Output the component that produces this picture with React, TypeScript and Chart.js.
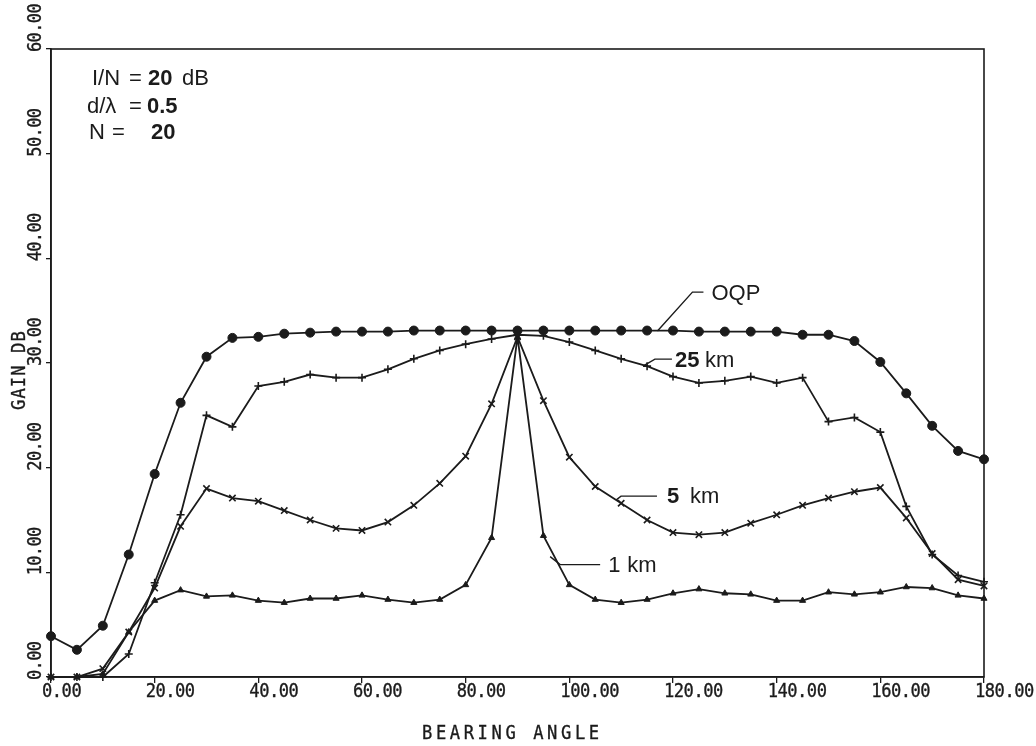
import React, { useEffect, useRef } from "react";
import { Chart, registerables } from "chart.js";

Chart.register(...registerables);

// Bearing angle samples (degrees)
const angles = [
  0, 5, 10, 15, 20, 25, 30, 35, 40, 45, 50, 55, 60, 65, 70, 75, 80, 85, 90,
  95, 100, 105, 110, 115, 120, 125, 130, 135, 140, 145, 150, 155, 160, 165,
  170, 175, 180,
];

// Gain (dB) per curve
const gainOQP = [
  3.9, 2.6, 4.9, 11.7, 19.4, 26.2, 30.6, 32.4, 32.5, 32.8, 32.9, 33.0, 33.0,
  33.0, 33.1, 33.1, 33.1, 33.1, 33.1, 33.1, 33.1, 33.1, 33.1, 33.1, 33.1,
  33.0, 33.0, 33.0, 33.0, 32.7, 32.7, 32.1, 30.1, 27.1, 24.0, 21.6, 20.8,
];
const gain25km = [
  0, 0, 0, 2.2, 9.0, 15.5, 25.0, 23.9, 27.8, 28.2, 28.9, 28.6, 28.6, 29.4,
  30.4, 31.2, 31.8, 32.3, 32.7, 32.6, 32.0, 31.2, 30.4, 29.7, 28.7, 28.1,
  28.3, 28.7, 28.1, 28.6, 24.4, 24.8, 23.4, 16.3, 11.7, 9.7, 9.1,
];
const gain5km = [
  0, 0, 0.8, 4.3, 8.5, 14.4, 18.0, 17.1, 16.8, 15.9, 15.0, 14.2, 14.0, 14.8,
  16.4, 18.5, 21.1, 26.1, 32.5, 26.4, 21.0, 18.2, 16.6, 15.0, 13.8, 13.6,
  13.8, 14.7, 15.5, 16.4, 17.1, 17.7, 18.1, 15.2, 11.8, 9.3, 8.7,
];
const gain1km = [
  0, 0, 0.3, 4.3, 7.3, 8.3, 7.7, 7.8, 7.3, 7.1, 7.5, 7.5, 7.8, 7.4, 7.1, 7.4,
  8.8, 13.3, 32.5, 13.5, 8.8, 7.4, 7.1, 7.4, 8.0, 8.4, 8.0, 7.9, 7.3, 7.3,
  8.1, 7.9, 8.1, 8.6, 8.5, 7.8, 7.5,
];

// Axis ticks and labels
const xTickValues = [0, 20, 40, 60, 80, 100, 120, 140, 160, 180];
const xTickLabels = [
  "0.00", "20.00", "40.00", "60.00", "80.00", "100.00", "120.00", "140.00",
  "160.00", "180.00",
];
const yTickValues = [0, 10, 20, 30, 40, 50, 60];
const yTickLabels = ["0.00", "10.00", "20.00", "30.00", "40.00", "50.00", "60.00"];

const xTitle = "BEARING ANGLE";
const yTitle = "GAIN DB";

const INK = "#1b1b1b";
const MONO = "'DejaVu Sans Mono', 'Liberation Mono', monospace";
const SANS = "'Liberation Sans', Arial, sans-serif";

// Plotter-style lettering: fixed advance per character, optionally rotated.
function plotterText(
  ctx: CanvasRenderingContext2D,
  text: string,
  x: number,
  y: number,
  advance: number,
  size: number,
  vertical = false
) {
  ctx.save();
  ctx.translate(x, y);
  if (vertical) ctx.rotate(-Math.PI / 2);
  ctx.font = `${size}px ${MONO}`;
  ctx.textAlign = "left";
  ctx.textBaseline = "alphabetic";
  ctx.fillStyle = INK;
  ctx.strokeStyle = INK;
  ctx.lineWidth = 0.35;
  for (let i = 0; i < text.length; i++) {
    ctx.save();
    ctx.translate(i * advance, 0);
    ctx.scale(0.9, 1);
    ctx.fillText(text[i], 0, 0);
    ctx.strokeText(text[i], 0, 0);
    ctx.restore();
  }
  ctx.restore();
}

function sansText(
  ctx: CanvasRenderingContext2D,
  text: string,
  x: number,
  y: number,
  bold = false,
  size = 21
) {
  ctx.font = `${bold ? "bold " : ""}${size}px ${SANS}`;
  ctx.textAlign = "left";
  ctx.textBaseline = "alphabetic";
  ctx.fillStyle = INK;
  ctx.fillText(text, x, y);
}

const framePlugin = {
  id: "plotFrame",
  beforeDatasetsDraw(chart: any) {
    const { ctx, chartArea } = chart;
    ctx.save();
    ctx.strokeStyle = INK;
    ctx.lineWidth = 1.6;
    ctx.strokeRect(
      chartArea.left,
      chartArea.top,
      chartArea.right - chartArea.left,
      chartArea.bottom - chartArea.top
    );
    ctx.restore();
  },
  afterDraw(chart: any) {
    const { ctx } = chart;
    const xs = chart.scales.x;
    const ys = chart.scales.y;
    ctx.save();

    // tick labels
    xTickValues.forEach((v, i) => {
      plotterText(ctx, xTickLabels[i], xs.getPixelForValue(v) - 9, 697, 9.8, 19);
    });
    yTickValues.forEach((v, i) => {
      plotterText(ctx, yTickLabels[i], 41, ys.getPixelForValue(v) + 3, 9.6, 19, true);
    });

    // axis titles
    plotterText(ctx, xTitle, 422, 739, 13.9, 19);
    plotterText(ctx, yTitle, 25, 410, 11.4, 19, true);

    // parameter block
    sansText(ctx, "I/N", 92, 85, false, 22);
    sansText(ctx, "=", 129, 85, false, 22);
    sansText(ctx, "20", 148, 85, true, 22);
    sansText(ctx, "dB", 182, 85, false, 22);
    sansText(ctx, "d/λ", 87, 113, false, 22);
    sansText(ctx, "=", 129, 113, false, 22);
    sansText(ctx, "0.5", 147, 113, true, 22);
    sansText(ctx, "N", 89, 139, false, 22);
    sansText(ctx, "=", 112, 139, false, 22);
    sansText(ctx, "20", 151, 139, true, 22);

    // curve labels with leader lines, anchored on the curves
    const leader = (ax: number, ay: number, pts: number[][]) => {
      const px = xs.getPixelForValue(ax);
      const py = ys.getPixelForValue(ay);
      ctx.beginPath();
      ctx.moveTo(px, py);
      pts.forEach(([dx, dy]) => ctx.lineTo(px + dx, py + dy));
      ctx.strokeStyle = INK;
      ctx.lineWidth = 1.4;
      ctx.stroke();
      const last = pts[pts.length - 1];
      return [px + last[0], py + last[1]];
    };

    let [ex, ey] = leader(117, 33.05, [[35, -39], [46, -39]]);
    sansText(ctx, "OQP", ex + 8, ey + 8, false, 22);

    [ex, ey] = leader(114.2, 29.7, [[12, -7], [29, -7]]);
    sansText(ctx, "25", ex + 3, ey + 8, true, 22);
    sansText(ctx, "km", ex + 33, ey + 8, false, 22);

    [ex, ey] = leader(109, 16.9, [[5, -4], [41, -4]]);
    sansText(ctx, "5", ex + 10, ey + 7, true, 22);
    sansText(ctx, "km", ex + 33, ey + 7, false, 22);

    [ex, ey] = leader(96.3, 11.5, [[10, 8], [50, 8]]);
    sansText(ctx, "1", ex + 8, ey + 7, false, 22);
    sansText(ctx, "km", ex + 27, ey + 7, false, 22);

    ctx.restore();
  },
};

function series(values: number[]) {
  return angles.map((a, i) => ({ x: a, y: values[i] }));
}

export default function App() {
  const canvasRef = useRef<HTMLCanvasElement | null>(null);

  useEffect(() => {
    const canvas = canvasRef.current;
    if (!canvas) return;

    const common = {
      borderColor: INK,
      backgroundColor: INK,
      borderWidth: 1.8,
      pointBorderColor: INK,
      pointBackgroundColor: INK,
      tension: 0,
      clip: false as any,
    };

    const chart = new Chart(canvas, {
      type: "line",
      data: {
        datasets: [
          { ...common, label: "OQP", data: series(gainOQP), pointStyle: "circle", pointRadius: 4.5, pointBorderWidth: 1 },
          { ...common, label: "25 km", data: series(gain25km), pointStyle: "cross", pointRadius: 4, pointBorderWidth: 1.6 },
          { ...common, label: "5 km", data: series(gain5km), pointStyle: "crossRot", pointRadius: 4.5, pointBorderWidth: 1.6 },
          { ...common, label: "1 km", data: series(gain1km), pointStyle: "triangle", pointRadius: 3.5, pointBorderWidth: 1 },
        ],
      },
      options: {
        animation: false,
        responsive: false,
        events: [],
        layout: { padding: { left: 0, top: 49, right: 52, bottom: 0 } },
        plugins: {
          legend: { display: false },
          tooltip: { enabled: false },
        },
        scales: {
          x: {
            type: "linear",
            min: 0,
            max: 180,
            afterBuildTicks: (s: any) => {
              s.ticks = xTickValues.map((v) => ({ value: v }));
            },
            afterFit: (s: any) => {
              s.height = 69;
            },
            ticks: { display: false },
            grid: {
              drawOnChartArea: false,
              drawTicks: true,
              tickLength: 6,
              color: INK,
              lineWidth: 1.3,
            },
            border: { display: true, color: INK, width: 1.6 },
          },
          y: {
            type: "linear",
            min: 0,
            max: 60,
            afterBuildTicks: (s: any) => {
              s.ticks = yTickValues.map((v) => ({ value: v }));
            },
            afterFit: (s: any) => {
              s.width = 51;
            },
            ticks: { display: false },
            grid: {
              drawOnChartArea: false,
              drawTicks: true,
              tickLength: 5,
              color: INK,
              lineWidth: 1.3,
            },
            border: { display: true, color: INK, width: 1.6 },
          },
        },
      },
      plugins: [framePlugin],
    });

    return () => chart.destroy();
  }, []);

  return (
    <div
      style={{
        position: "fixed",
        left: 0,
        top: 0,
        width: 1036,
        height: 746,
        background: "#ffffff",
      }}
    >
      <canvas ref={canvasRef} width={1036} height={746} style={{ display: "block" }} />
    </div>
  );
}
